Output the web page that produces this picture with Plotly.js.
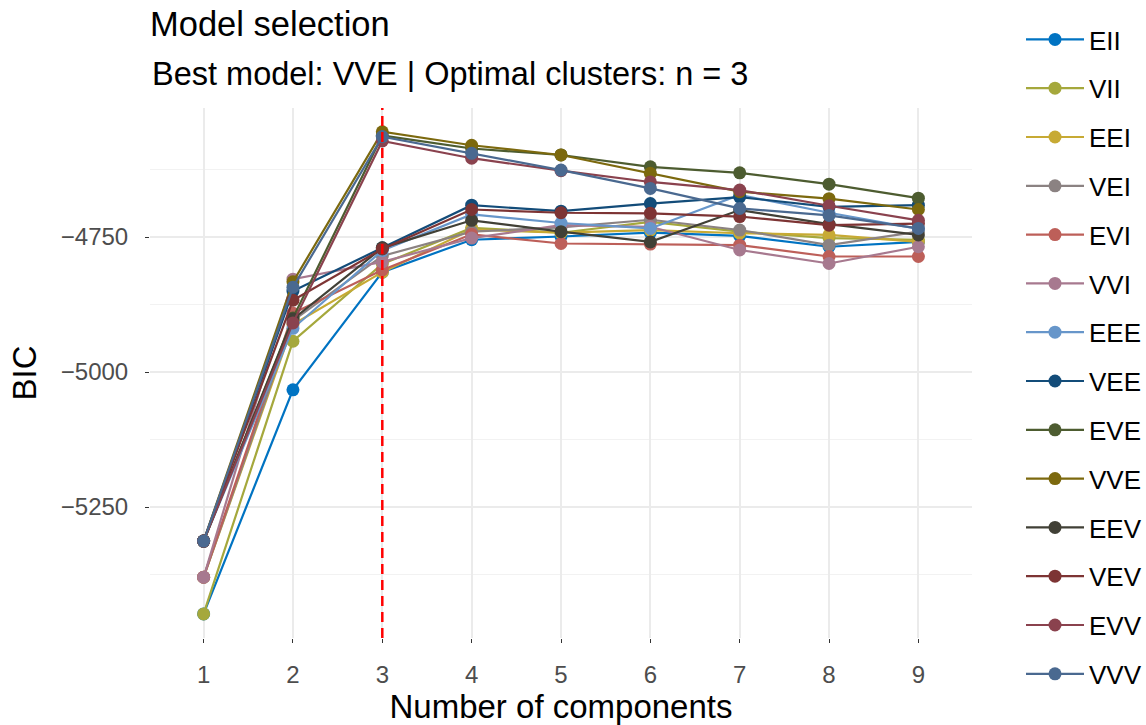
<!DOCTYPE html>
<html>
<head>
<meta charset="utf-8">
<script src="https://cdn.plot.ly/plotly-3.0.1.min.js"></script>
<style>html,body{margin:0;padding:0;background:#fff;}#chart{width:1146px;height:725px;}</style>
</head>
<body>
<div id="chart"></div>
<script>
const components = [1, 2, 3, 4, 5, 6, 7, 8, 9];
const models = ["EII","VII","EEI","VEI","EVI","VVI","EEE","VEE","EVE","VVE","EEV","VEV","EVV","VVV"];
const colors = ["#0073C2","#A5A83C","#C7AA34","#8B8282","#BD5F59","#A7798F","#6796CA","#134C79","#4D5C30","#7C690E","#414036","#7D3434","#8A424E","#4A6990"];

const EII = [-5448, -5033, -4815, -4755, -4749, -4742, -4748, -4768, -4759];
const VII = [-5448, -4943, -4800, -4733, -4742, -4722, -4740, -4752, -4755];
const EEI = [-5380, -4912, -4815, -4736, -4742, -4737, -4743, -4746, -4759];
const VEI = [-5380, -4905, -4785, -4740, -4732, -4718, -4737, -4765, -4740];
const EVI = [-5380, -4891, -4811, -4745, -4762, -4763, -4765, -4786, -4786];
const VVI = [-5380, -4828, -4796, -4752, -4728, -4731, -4774, -4799, -4768];
const EEE = [-5313, -4919, -4775, -4708, -4724, -4734, -4672, -4705, -4735];
const VEE = [-5313, -4850, -4770, -4691, -4702, -4688, -4676, -4694, -4691];
const EVE = [-5313, -4900, -4562, -4586, -4598, -4620, -4631, -4652, -4678];
const VVE = [-5313, -4833, -4555, -4580, -4598, -4632, -4666, -4679, -4699];
const EEV = [-5313, -4902, -4770, -4719, -4740, -4759, -4700, -4726, -4746];
const VEV = [-5313, -4867, -4772, -4699, -4705, -4706, -4712, -4728, -4725];
const EVV = [-5313, -4909, -4572, -4604, -4627, -4648, -4663, -4692, -4719];
const VVV = [-5313, -4843, -4564, -4595, -4626, -4660, -4697, -4710, -4734];
const bestK = 3;

const series = [EII, VII, EEI, VEI, EVI, VVI, EEE, VEE, EVE, VVE, EEV, VEV, EVV, VVV];
const font = "Liberation Sans, Arial, sans-serif";

const traces = series.map((vals, i) => ({
  x: components, y: vals, name: models[i], legendgroup: models[i],
  type: "scatter", mode: "lines+markers",
  line: {color: colors[i], width: 2.2},
  marker: {color: colors[i], size: 13},
  cliponaxis: false
}));

const layout = {
  width: 1146, height: 725,
  paper_bgcolor: "#fff", plot_bgcolor: "#fff",
  margin: {l: 150, r: 174, t: 108, b: 87},
  font: {family: font, color: "#000"},
  title: {text: "Model selection", x: 150/1146, xanchor: "left", xref: "container",
          y: 1 - 24/725, yanchor: "middle", yref: "container",
          font: {size: 34.5, color: "#000", family: font}},
  annotations: [{text: "Best model: VVE | Optimal clusters: n = 3", xref: "paper", yref: "paper",
                 x: 0, y: (638 - 74)/530, xanchor: "left", yanchor: "middle", showarrow: false,
                 font: {size: 32.5, color: "#000", family: font}}],
  shapes: [{type: "line", xref: "x", yref: "paper", x0: bestK, x1: bestK, y0: 0, y1: 1,
            line: {color: "#FF0000", width: 2.5, dash: "10px,6px"}, layer: "above"}],
  xaxis: {
    range: [0.4, 9.6], tickvals: components, ticktext: components.map(String),
    showgrid: true, gridcolor: "#EBEBEB", gridwidth: 2, zeroline: false, showline: false,
    ticks: "outside", ticklen: 4, tickcolor: "#333", tickwidth: 1.2, ticklabelstandoff: 11,
    tickfont: {size: 24, color: "#4D4D4D", family: font},
    title: {text: "Number of components", font: {size: 33, color: "#000", family: font}, standoff: 6}
  },
  yaxis: {
    range: [-5492.6, -4511], tickvals: [-5250, -5000, -4750],
    showgrid: true, gridcolor: "#EBEBEB", gridwidth: 2, zeroline: false, showline: false,
    minor: {tickvals: [-5375, -5125, -4875, -4625], showgrid: true, gridcolor: "#F2F2F2", gridwidth: 1.2, ticks: ""},
    ticks: "outside", ticklen: 4, tickcolor: "#333", tickwidth: 1.2, ticklabelstandoff: 12,
    tickfont: {size: 24, color: "#4D4D4D", family: font},
    title: {text: "BIC", font: {size: 33, color: "#000", family: font}, standoff: 14}
  },
  legend: {xref: "container", yref: "container", x: 1021/1146, y: 1 - 16/725, xanchor: "left", yanchor: "top",
           font: {size: 26, color: "#000", family: font}, maxheight: 1,
           tracegroupgap: 12, itemwidth: 58},
  showlegend: true
};

Plotly.newPlot("chart", traces, layout, {displayModeBar: false, responsive: false});
</script>
</body>
</html>
